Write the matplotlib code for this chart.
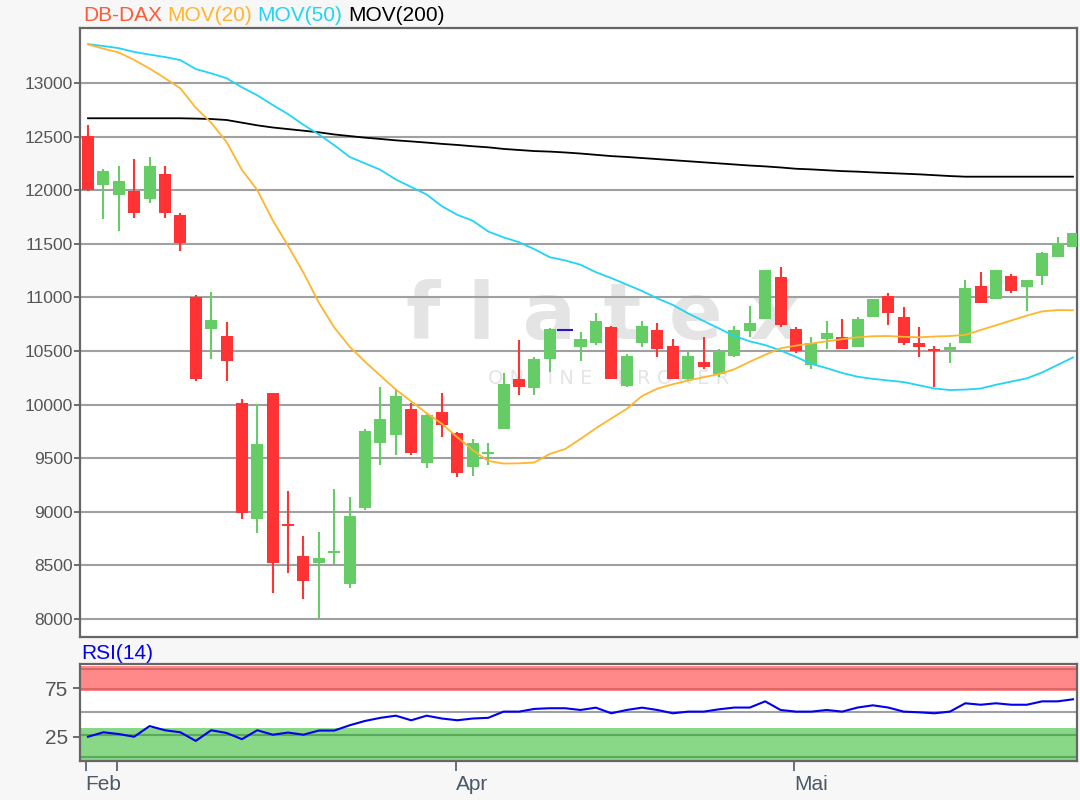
import matplotlib.pyplot as plt
import numpy as np

plt.rcParams['font.family'] = ['Liberation Sans', 'DejaVu Sans']

# OHLC der Tageskerzen
opens = [12510, 12045, 11955, 11990, 11918, 12155, 11770, 11005, 10705, 10643,
         10012, 8933, 10105, 8885, 8590, 8520, 8615, 8323, 9040, 9645,
         9716, 9956, 9458, 9934, 9732, 9415, 9540, 9772, 10236, 10152,
         10422, 10696, 10540, 10572, 10721, 10177, 10575, 10696, 10547, 10236,
         10401, 10285, 10453, 10690, 10799, 11186, 10702, 10369, 10609, 10628,
         10534, 10814, 11013, 10814, 10572, 10516, 10509, 10572, 11110, 10985,
         11202, 11100, 11203, 11380, 11473]
highs = [12610, 12195, 12230, 12290, 12305, 12230, 11785, 11022, 11053, 10774,
         10050, 10003, 10105, 9190, 8777, 8815, 9210, 9135, 9770, 10161,
         10142, 10012, 9919, 10105, 9748, 9677, 9645, 10292, 10600, 10441,
         10717, 10696, 10680, 10852, 10733, 10472, 10777, 10758, 10609, 10494,
         10628, 10516, 10733, 10920, 11260, 11280, 10727, 10628, 10780, 10796,
         10814, 10982, 11038, 10908, 10721, 10547, 10572, 11162, 11239, 11255,
         11220, 11162, 11427, 11560, 11598]
lows = [11990, 11730, 11620, 11745, 11877, 11745, 11433, 10220, 10423, 10220,
        8930, 8800, 8240, 8425, 8187, 8006, 8510, 8286, 9017, 9437,
        9530, 9530, 9406, 9695, 9322, 9337, 9437, 9772, 10090, 10090,
        10307, 10696, 10409, 10553, 10242, 10161, 10534, 10441, 10236, 10223,
        10332, 10260, 10441, 10628, 10799, 10721, 10485, 10328, 10515, 10516,
        10534, 10814, 10742, 10556, 10447, 10167, 10385, 10572, 10951, 10985,
        11038, 10873, 11116, 11380, 11473]
closes = [12005, 12175, 12085, 11785, 12230, 11785, 11510, 10237, 10792, 10407,
          8993, 9636, 8520, 8865, 8355, 8572, 8628, 8963, 9750, 9862,
          10083, 9546, 9903, 9810, 9359, 9639, 9555, 10192, 10167, 10422,
          10702, 10696, 10609, 10777, 10242, 10453, 10733, 10515, 10242, 10453,
          10348, 10497, 10696, 10758, 11260, 10742, 10500, 10572, 10665, 10516,
          10796, 10982, 10858, 10572, 10541, 10503, 10534, 11091, 10951, 11255,
          11060, 11162, 11411, 11504, 11598]

# gleitende Durchschnitte
mov20 = [13360, 13320, 13285, 13215, 13135, 13045, 12950, 12770, 12630, 12450,
         12190, 12000, 11720, 11480, 11230, 10950, 10720, 10540, 10400, 10270,
         10140, 10030, 9920, 9820, 9695, 9575, 9475, 9450, 9452, 9460,
         9540, 9585, 9680, 9780, 9870, 9960, 10080, 10150, 10190, 10225,
         10255, 10285, 10330, 10400, 10465, 10525, 10550, 10570, 10590, 10610,
         10628, 10638, 10640, 10632, 10628, 10635, 10640, 10650, 10696, 10740,
         10785, 10830, 10870, 10882, 10880]
mov50 = [13362, 13345, 13325, 13290, 13265, 13242, 13214, 13130, 13090, 13045,
         12960, 12885, 12795, 12710, 12610, 12520, 12420, 12310, 12250, 12190,
         12100, 12030, 11960, 11850, 11770, 11715, 11615, 11560, 11515, 11450,
         11375, 11345, 11305, 11235, 11180, 11120, 11060, 10990, 10930, 10850,
         10780, 10710, 10640, 10590, 10555, 10505, 10445, 10380, 10340, 10295,
         10260, 10240, 10225, 10210, 10180, 10150, 10136, 10140, 10150, 10185,
         10215, 10245, 10300, 10370, 10440]
mov200 = [12671, 12671, 12671, 12671, 12671, 12671, 12671, 12668, 12664, 12655,
          12630, 12605, 12585, 12570, 12555, 12540, 12520, 12505, 12490, 12478,
          12465, 12455, 12444, 12432, 12422, 12410, 12400, 12385, 12375, 12365,
          12360, 12352, 12342, 12330, 12318, 12310, 12300, 12290, 12280, 12270,
          12260, 12250, 12240, 12230, 12222, 12212, 12200, 12194, 12186, 12178,
          12173, 12166, 12160, 12154, 12148, 12140, 12132, 12126, 12126, 12126,
          12126, 12126, 12126, 12126, 12126]

rsi = [25, 29.6, 27.8, 25, 36, 31.7, 29.6, 20.7, 31.7, 28.9,
       22.5, 31.7, 27.1, 29.3, 27.1, 31.4, 31.4, 36.8, 41.3, 44.5,
       46.7, 42, 46.7, 43.8, 42, 43.8, 44.5, 50.9, 50.9, 53.7,
       54.4, 54.4, 52.6, 55, 49.2, 52.6, 55, 52.6, 49.2, 50.9,
       50.9, 53.3, 55.1, 55.1, 61.5, 52.6, 50.9, 50.9, 52.6, 50.9,
       55.1, 57.4, 55.1, 50.9, 50.2, 49.2, 50.9, 59.5, 58, 59.5,
       58, 58, 61.5, 61.5, 63.6]

month_ticks = [-0.15, 1.9, 23.9, 45.9]
month_labels = ["Feb", "", "Apr", "Mai"]
price_ticks = np.arange(8000, 13001, 500)

UP = "#66cc66"
DOWN = "#ff3333"
TXT = "#555555"

fig = plt.figure(figsize=(10.8, 8), dpi=100, facecolor="#f7f7f7")
ax = fig.add_axes([80/1080, 1-637/800, 997/1080, 609/800])
ax2 = fig.add_axes([80/1080, 1-761/800, 997/1080, 97/800])

x = np.arange(len(opens))
o = np.array(opens); h = np.array(highs); l = np.array(lows); c = np.array(closes)

# Wasserzeichen
ax.text(0.525, 0.49, "f l a t e x", transform=ax.transAxes, fontsize=57, fontweight="bold",
        color="#e4e4e4", ha="center", va="baseline", zorder=0, family="DejaVu Sans")
ax.text(0.53, 0.425, "O N L I N E    B R O K E R", transform=ax.transAxes, fontsize=14,
        color="#e4e4e4", ha="center", va="center", zorder=0, family="DejaVu Sans")

# Kerzen
for i in x:
    if o[i] == c[i]:
        ax.hlines(o[i], i-0.5, i+0.5, color="#3311cc", lw=1.5, zorder=3)
        continue
    col = UP if c[i] > o[i] else DOWN
    ax.vlines(i, l[i], h[i], color=col, lw=1.5, zorder=3)
    lo, hi = min(o[i], c[i]), max(o[i], c[i])
    ax.bar(i, max(hi-lo, 15), bottom=lo, width=0.78, color=col, zorder=3)

ax.plot(x, mov200, color="black", lw=1.3, zorder=4)
ax.plot(x, mov50, color="#22d4f4", lw=1.3, zorder=4)
ax.plot(x, mov20, color="#ffb52e", lw=1.3, zorder=4)

ax.set_xlim(-0.52, 64.26)
ax.set_ylim(7832, 13513)
ax.set_yticks(price_ticks)
ax.yaxis.grid(True, color="#a0a0a0", lw=1.5)
ax.set_axisbelow(True)
ax.tick_params(axis="y", colors=TXT, labelsize=12.5, length=4, width=1.2, pad=1)
ax.tick_params(axis="x", bottom=False, labelbottom=False)
for s in ax.spines.values():
    s.set_color("#666666")
    s.set_linewidth(1.6)

# Titelzeile
t = fig.text(83/1080, 1-25/800, "DB-DAX", color="#ff5a36", fontsize=15, va="bottom")
for label, col in [("MOV(20)", "#ffb52e"), ("MOV(50)", "#22d4f4"), ("MOV(200)", "black")]:
    t = ax.annotate(label, xy=(1, 0), xycoords=t, xytext=(4, 0), textcoords="offset points",
                    color=col, fontsize=15, va="bottom", annotation_clip=False)

# RSI
ax2.axhspan(72, 97.5, color="#ff8888", lw=0)
ax2.axhline(74.5, color="#dd6666", lw=1.5)
ax2.axhline(95, color="#dd6666", lw=1.5)
ax2.axhspan(1, 34, color="#88d888", lw=0)
ax2.axhline(27, color="#5aa85a", lw=1.5)
ax2.axhline(4, color="#5aa85a", lw=1.5)
ax2.axhline(50.5, color="#a0a0a0", lw=1.5)
ax2.plot(x, rsi, color="#0000ee", lw=1.5)
ax2.set_xlim(-0.52, 64.26)
ax2.set_ylim(0, 100)
ax2.set_yticks([25, 75])
ax2.set_xticks(month_ticks)
ax2.set_xticklabels(month_labels, ha="left")
ax2.tick_params(axis="y", colors=TXT, labelsize=15, length=5, width=1.2)
ax2.tick_params(axis="x", colors="#4a5a6a", labelsize=15, length=7, width=1.2, pad=3)
for s in ax2.spines.values():
    s.set_color("#666666")
    s.set_linewidth(1.6)
fig.text(81/1080, 1-663/800, "RSI(14)", color="#0000ee", fontsize=15, va="bottom")

plt.savefig("out.png", dpi=100, facecolor=fig.get_facecolor())
